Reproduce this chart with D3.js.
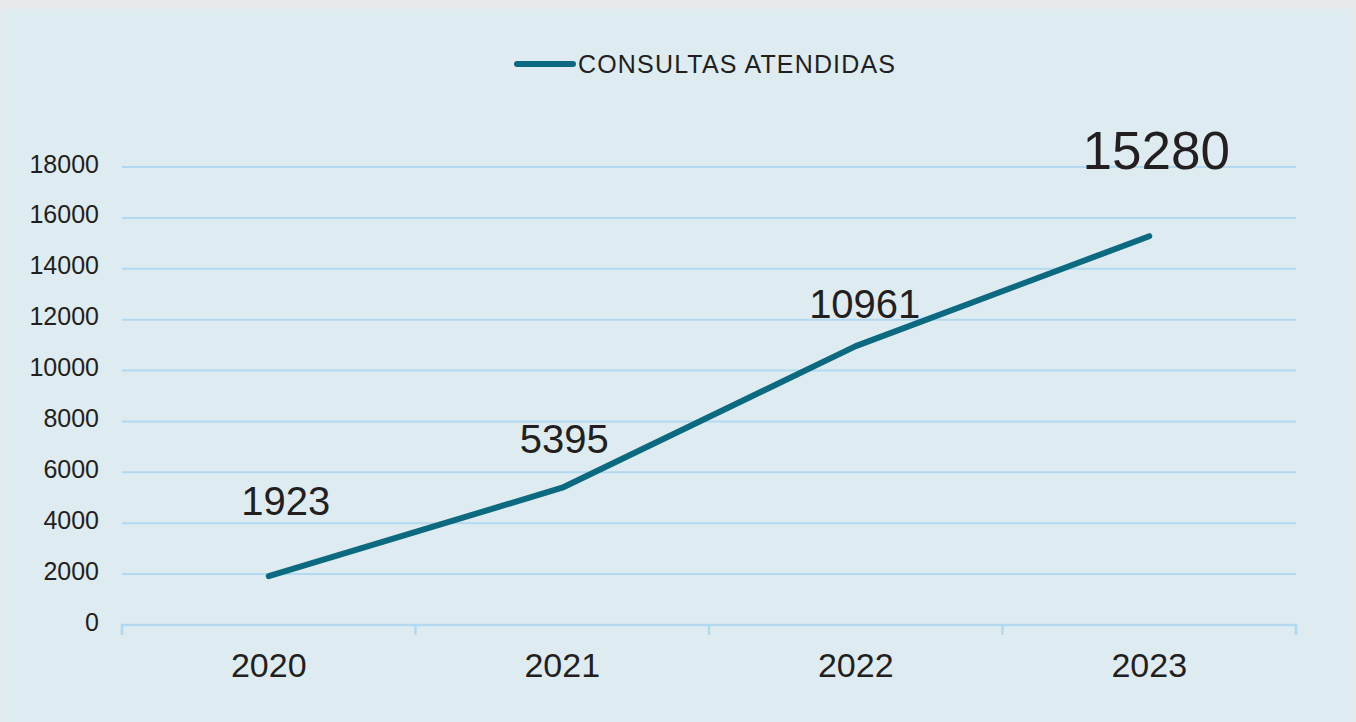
<!DOCTYPE html>
<html>
<head>
<meta charset="utf-8">
<script src="https://cdn.jsdelivr.net/npm/d3@7"></script>
<style>
  html, body { margin: 0; padding: 0; background: #e7e8ea; }
  svg { display: block; font-family: "Liberation Sans", Arial, Helvetica, sans-serif; }
</style>
</head>
<body>
<div id="chart"></div>
<script>
// data
const years = ["2020", "2021", "2022", "2023"]
const consultas = [1923, 5395, 10961, 15280]
const yTicks = [0, 2000, 4000, 6000, 8000, 10000, 12000, 14000, 16000, 18000]
const seriesName = "CONSULTAS ATENDIDAS"

function draw() {

//------------------- dimensions
    const dims = {
        width: 1356,
        height: 722,
        margin: { top: 167, right: 60, bottom: 97, left: 122 }
    }
    dims.boundedWidth = dims.width - dims.margin.left - dims.margin.right
    dims.boundedHeight = dims.height - dims.margin.top - dims.margin.bottom

    const lineColor = "#0b6a80"
    const gridColor = "#b2d9ef"
    const textColor = "#231f20"

//------------------- wrapper
    const wrapper = d3.select("#chart")
        .append("svg")
        .attr("width", dims.width)
        .attr("height", dims.height)

    wrapper.append("rect")
        .attr("x", 2).attr("y", 9)
        .attr("width", 1352).attr("height", dims.height - 9)
        .attr("fill", "#deecf1")

    const bounds = wrapper.append("g")
        .attr("transform", `translate(${dims.margin.left},${dims.margin.top})`)

//------------------- scales
    const xScale = d3.scaleBand()
        .domain(years)
        .range([0, dims.boundedWidth])

    const yScale = d3.scaleLinear()
        .domain([0, 18000])
        .range([dims.boundedHeight, 0])

//------------------- gridlines
    bounds.append("g")
        .selectAll("line")
        .data(yTicks.filter(d => d > 0))
        .join("line")
        .attr("x1", 0)
        .attr("x2", dims.boundedWidth)
        .attr("y1", d => yScale(d))
        .attr("y2", d => yScale(d))
        .attr("stroke", gridColor)
        .attr("stroke-width", 2)

//------------------- y axis (labels only)
    const yAxis = bounds.append("g")
        .call(d3.axisLeft(yScale).tickValues(yTicks).tickFormat(d3.format("d")).tickSize(0).tickPadding(23))
    yAxis.select(".domain").remove()
    yAxis.selectAll("text")
        .attr("font-size", 25)
        .attr("fill", textColor)
        .attr("dy", "0.2em")
        .attr("font-family", "Liberation Sans, Arial, sans-serif")

//------------------- x axis
    const xAxis = bounds.append("g")
        .attr("transform", `translate(0,${dims.boundedHeight})`)
        .call(d3.axisBottom(xScale).tickSize(0).tickPadding(28))
    xAxis.select(".domain")
        .attr("stroke", gridColor)
        .attr("stroke-width", 2.5)
        .attr("d", `M0,10V0H${dims.boundedWidth}V10`)
    xAxis.selectAll("text")
        .attr("font-size", 34)
        .attr("fill", textColor)
        .attr("font-family", "Liberation Sans, Arial, sans-serif")

    // tick marks on band edges
    const edges = years.map(d => xScale(d)).concat([dims.boundedWidth])
    xAxis.append("g")
        .selectAll("line")
        .data(edges)
        .join("line")
        .attr("x1", d => d).attr("x2", d => d)
        .attr("y1", 0).attr("y2", 10)
        .attr("stroke", gridColor)
        .attr("stroke-width", 2.5)

//------------------- line
    const lineData = years.map((y, i) => ({ year: y, value: consultas[i] }))
    const lineGenerator = d3.line()
        .x(d => xScale(d.year) + xScale.bandwidth() / 2)
        .y(d => yScale(d.value))

    bounds.append("path")
        .datum(lineData)
        .attr("d", lineGenerator)
        .attr("fill", "none")
        .attr("stroke", lineColor)
        .attr("stroke-width", 6)
        .attr("stroke-linecap", "round")
        .attr("stroke-linejoin", "round")

//------------------- value labels (hand-placed nudges like the original)
    const nudge = [[17, -61, 40], [2, -35, 40], [9, -28, 40], [7, -67, 53]]
    bounds.append("g")
        .selectAll("text")
        .data(lineData)
        .join("text")
        .attr("x", (d, i) => xScale(d.year) + xScale.bandwidth() / 2 + nudge[i][0])
        .attr("y", (d, i) => yScale(d.value) + nudge[i][1])
        .attr("text-anchor", "middle")
        .attr("font-size", (d, i) => nudge[i][2])
        .attr("fill", textColor)
        .text(d => d.value)

//------------------- legend
    const legend = wrapper.append("g")
        .attr("transform", "translate(517,64)")
    legend.append("line")
        .attr("x1", 0).attr("x2", 56)
        .attr("y1", 0).attr("y2", 0)
        .attr("stroke", lineColor)
        .attr("stroke-width", 6)
        .attr("stroke-linecap", "round")
    legend.append("text")
        .attr("x", 61)
        .attr("y", 8.5)
        .attr("font-size", 25)
        .attr("fill", textColor)
        .attr("textLength", 317)
        .attr("lengthAdjust", "spacing")
        .text(seriesName)
}
draw()
</script>
</body>
</html>
